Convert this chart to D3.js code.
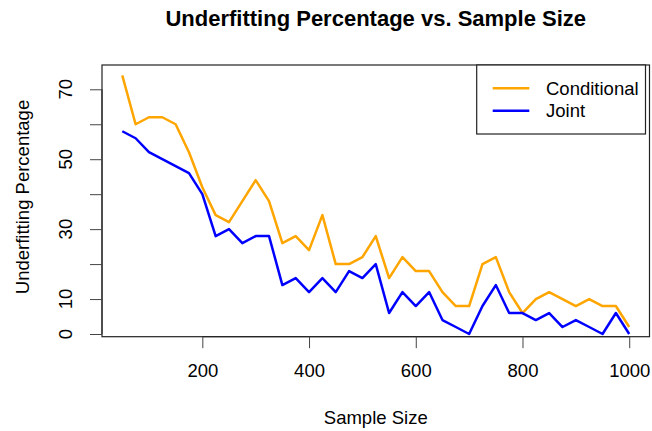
<!DOCTYPE html>
<html>
<head>
<meta charset="utf-8">
<script src="https://cdn.jsdelivr.net/npm/d3@7"></script>
<style>
    body { margin: 0; background: #fff; }
    svg { display: block; font-family: "Liberation Sans", Arial, Helvetica, sans-serif; }
</style>
</head>
<body>
<div id="chart-container"></div>
<script>
// Chart data
const sampleSizes = [50, 75, 100, 125, 150, 175, 200, 225, 250, 275, 300, 325, 350, 375, 400,
    425, 450, 475, 500, 525, 550, 575, 600, 625, 650, 675, 700, 725, 750, 775, 800,
    825, 850, 875, 900, 925, 950, 975, 1000];
const conditionalPct = [74, 60, 62, 62, 60, 52, 42, 34, 32, 38, 44, 38, 26, 28, 24,
    34, 20, 20, 22, 28, 16, 22, 18, 18, 12, 8, 8, 20, 22, 12, 6,
    10, 12, 10, 8, 10, 8, 8, 2];
const jointPct = [58, 56, 52, 50, 48, 46, 40, 28, 30, 26, 28, 28, 14, 16, 12,
    16, 12, 18, 16, 20, 6, 12, 8, 12, 4, 2, 0, 8, 14, 6, 6,
    4, 6, 2, 4, 2, 0, 6, 0];
const xTicks = [200, 400, 600, 800, 1000];
const yTicks = [0, 10, 20, 30, 40, 50, 60, 70];
const yTickLabels = [0, 10, 30, 50, 70];
const seriesNames = ['Conditional', 'Joint'];
const seriesColors = ['orange', 'blue'];

// Layout
const width = 652;
const height = 431;
const plot = { left: 102, right: 649.5, top: 65, bottom: 336.7 };
const fontSize = 18.5;

function renderChart() {
    const svg = d3.select('#chart-container')
        .append('svg')
            .attr('width', width)
            .attr('height', height);

    // Scales (R style 4% padding)
    const x = d3.scaleLinear()
        .domain([12, 1038])
        .range([plot.left, plot.right]);

    const y = d3.scaleLinear()
        .domain([-0.77, 76.95])
        .range([plot.bottom, plot.top]);

    // Lines
    const line = d3.line()
        .x((d, i) => x(sampleSizes[i]))
        .y(d => y(d));

    [conditionalPct, jointPct].forEach((series, i) => {
        svg.append('path')
            .datum(series)
            .attr('d', line)
            .attr('fill', 'none')
            .attr('stroke', seriesColors[i])
            .attr('stroke-width', 2.5)
            .attr('stroke-linejoin', 'round');
    });

    // Plot box
    svg.append('rect')
        .attr('x', plot.left)
        .attr('y', plot.top)
        .attr('width', plot.right - plot.left)
        .attr('height', plot.bottom - plot.top)
        .attr('fill', 'none')
        .attr('stroke', '#222')
        .attr('stroke-width', 1.2);

    // X axis
    const xAxis = svg.append('g')
        .attr('transform', `translate(0,${plot.bottom})`)
        .call(d3.axisBottom(x)
            .tickValues(xTicks)
            .tickFormat(d3.format('d'))
            .tickSize(11.5)
            .tickPadding(16)
            .tickSizeOuter(0));
    xAxis.select('.domain')
        .attr('d', `M${x(xTicks[0])},0H${x(xTicks[xTicks.length - 1])}`)
        .attr('stroke', '#222');
    xAxis.selectAll('.tick line').attr('stroke', '#444');
    xAxis.selectAll('text')
        .attr('font-size', fontSize)
        .attr('font-family', '"Liberation Sans", Arial, sans-serif')
        .attr('fill', '#000');

    // Y axis (ticks only, labels rotated as in R)
    const yAxis = svg.append('g')
        .attr('transform', `translate(${plot.left},0)`)
        .call(d3.axisLeft(y)
            .tickValues(yTicks)
            .tickSize(12)
            .tickSizeOuter(0)
            .tickFormat(''));
    yAxis.select('.domain')
        .attr('d', `M0,${y(yTicks[0])}V${y(yTicks[yTicks.length - 1])}`)
        .attr('stroke', '#222');
    yAxis.selectAll('.tick line').attr('stroke', '#444');

    svg.append('g')
        .selectAll('text')
        .data(yTickLabels)
        .enter()
        .append('text')
            .attr('transform', d => `translate(72,${y(d)}) rotate(-90)`)
            .attr('text-anchor', 'middle')
            .attr('font-size', fontSize)
            .attr('fill', '#000')
            .text(d => d);

    // Title and axis titles
    svg.append('text')
        .attr('x', (plot.left + plot.right) / 2)
        .attr('y', 25.5)
        .attr('text-anchor', 'middle')
        .attr('font-size', 22)
        .attr('font-weight', 'bold')
        .text('Underfitting Percentage vs. Sample Size');

    svg.append('text')
        .attr('x', (plot.left + plot.right) / 2)
        .attr('y', 424)
        .attr('text-anchor', 'middle')
        .attr('font-size', fontSize)
        .text('Sample Size');

    svg.append('text')
        .attr('transform', `translate(28.5,197) rotate(-90)`)
        .attr('text-anchor', 'middle')
        .attr('font-size', fontSize)
        .text('Underfitting Percentage');

    // Legend
    const legend = svg.append('g');
    legend.append('rect')
        .attr('x', 476.7)
        .attr('y', plot.top)
        .attr('width', 645.5 - 476.7)
        .attr('height', 134 - plot.top)
        .attr('fill', '#fff')
        .attr('stroke', '#222')
        .attr('stroke-width', 1.2);

    seriesNames.forEach((name, i) => {
        const ly = 88.3 + i * 22.4;
        legend.append('line')
            .attr('x1', 492.7)
            .attr('x2', 529.3)
            .attr('y1', ly)
            .attr('y2', ly)
            .attr('stroke', seriesColors[i])
            .attr('stroke-width', 2.5);
        legend.append('text')
            .attr('x', 546)
            .attr('y', ly)
            .attr('dy', '0.35em')
            .attr('font-size', fontSize)
            .text(name);
    });
}

window.addEventListener('load', renderChart);
</script>
</body>
</html>
